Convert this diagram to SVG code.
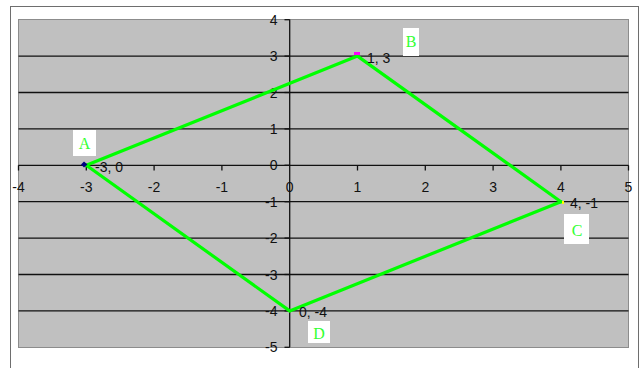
<svg xmlns="http://www.w3.org/2000/svg" width="644" height="368" viewBox="0 0 644 368">
<style>
.grid{stroke:#111;stroke-width:1.3}
.tick{stroke:#111;stroke-width:1.3}
.ax{font-family:"Liberation Sans",Arial,sans-serif;font-size:14px;fill:#111}
.dl{font-family:"Liberation Sans",Arial,sans-serif;font-size:14px;fill:#111}
.box{fill:#ffffff}
.let{font-family:"Liberation Serif","Times New Roman",serif;font-size:16px;fill:#33ff33;text-anchor:middle}
.edge{stroke:#00ff00;stroke-width:3.2;stroke-linecap:round;fill:none}
</style>
<rect x="0" y="0" width="644" height="368" fill="#ffffff"/>
<rect x="10.5" y="6.5" width="628" height="370" fill="#ffffff" stroke="#6e6e6e" stroke-width="1"/>
<rect x="18.5" y="19.5" width="610" height="328" fill="#c0c0c0" stroke="#8c8c8c" stroke-width="1"/>
<g id="grid">
<line class="grid" x1="18.5" y1="56.1" x2="628.5" y2="56.1"/>
<line class="grid" x1="18.5" y1="92.5" x2="628.5" y2="92.5"/>
<line class="grid" x1="18.5" y1="128.9" x2="628.5" y2="128.9"/>
<line class="grid" x1="18.5" y1="165.3" x2="628.5" y2="165.3"/>
<line class="grid" x1="18.5" y1="201.7" x2="628.5" y2="201.7"/>
<line class="grid" x1="18.5" y1="238.1" x2="628.5" y2="238.1"/>
<line class="grid" x1="18.5" y1="274.5" x2="628.5" y2="274.5"/>
<line class="grid" x1="18.5" y1="310.9" x2="628.5" y2="310.9"/>
<line class="grid" x1="289.7" y1="19.5" x2="289.7" y2="347.3"/>
</g>
<g id="ticks">
<line class="tick" x1="18.5" y1="165.3" x2="18.5" y2="170.5"/>
<line class="tick" x1="86.3" y1="165.3" x2="86.3" y2="170.5"/>
<line class="tick" x1="154.1" y1="165.3" x2="154.1" y2="170.5"/>
<line class="tick" x1="221.9" y1="165.3" x2="221.9" y2="170.5"/>
<line class="tick" x1="357.5" y1="165.3" x2="357.5" y2="170.5"/>
<line class="tick" x1="425.3" y1="165.3" x2="425.3" y2="170.5"/>
<line class="tick" x1="493.1" y1="165.3" x2="493.1" y2="170.5"/>
<line class="tick" x1="560.9" y1="165.3" x2="560.9" y2="170.5"/>
<line class="tick" x1="628.5" y1="165.3" x2="628.5" y2="170.5"/>
<line class="tick" x1="284.5" y1="19.7" x2="289.7" y2="19.7"/>
<line class="tick" x1="284.5" y1="56.1" x2="289.7" y2="56.1"/>
<line class="tick" x1="284.5" y1="92.5" x2="289.7" y2="92.5"/>
<line class="tick" x1="284.5" y1="128.9" x2="289.7" y2="128.9"/>
<line class="tick" x1="284.5" y1="165.3" x2="289.7" y2="165.3"/>
<line class="tick" x1="284.5" y1="201.7" x2="289.7" y2="201.7"/>
<line class="tick" x1="284.5" y1="238.1" x2="289.7" y2="238.1"/>
<line class="tick" x1="284.5" y1="274.5" x2="289.7" y2="274.5"/>
<line class="tick" x1="284.5" y1="310.9" x2="289.7" y2="310.9"/>
<line class="tick" x1="284.5" y1="347.3" x2="289.7" y2="347.3"/>
</g>
<g id="x-labels" class="ax" text-anchor="middle">
<text x="18.5" y="192">-4</text>
<text x="86.3" y="192">-3</text>
<text x="154.1" y="192">-2</text>
<text x="221.9" y="192">-1</text>
<text x="289.7" y="192">0</text>
<text x="357.5" y="192">1</text>
<text x="425.3" y="192">2</text>
<text x="493.1" y="192">3</text>
<text x="560.9" y="192">4</text>
<text x="628.5" y="192">5</text>
</g>
<g id="y-labels" class="ax" text-anchor="end">
<text x="277.5" y="24.8">4</text>
<text x="277.5" y="61.2">3</text>
<text x="277.5" y="97.6">2</text>
<text x="277.5" y="134">1</text>
<text x="277.5" y="170.4">0</text>
<text x="277.5" y="206.8">-1</text>
<text x="277.5" y="243.2">-2</text>
<text x="277.5" y="279.6">-3</text>
<text x="277.5" y="316">-4</text>
<text x="277.5" y="352.4">-5</text>
</g>
<g id="connectors">
<line class="edge" x1="86.3" y1="165.3" x2="357.5" y2="56.1"/>
<line class="edge" x1="357.5" y1="56.1" x2="560.9" y2="201.7"/>
<line class="edge" x1="560.9" y1="201.7" x2="289.7" y2="310.9"/>
<line class="edge" x1="289.7" y1="310.9" x2="86.3" y2="165.3"/>
</g>
<g id="A">
<path d="M84 161.5 L87.5 164.5 L84 167.5 L81 164.5 Z" fill="#000080"/>
<text class="dl" x="95" y="171.7">-3, 0</text>
<rect class="box" x="73" y="130" width="23" height="26"/>
<text class="let" x="84.5" y="149">A</text>
</g>
<g id="B">
<rect x="354" y="52" width="6" height="3" fill="#ff00ff"/>
<text class="dl" x="367" y="62.5">1, 3</text>
<rect class="box" x="403" y="28" width="16" height="28"/>
<text class="let" x="411" y="47">B</text>
</g>
<g id="C">
<rect x="562" y="201" width="2" height="3" fill="#ffff00"/>
<text class="dl" x="570" y="207.7">4, -1</text>
<rect class="box" x="564" y="214" width="25" height="30"/>
<text class="let" x="577" y="236">C</text>
</g>
<g id="D">
<text class="dl" x="299" y="316.7">0, -4</text>
<rect class="box" x="308" y="321" width="22" height="22"/>
<text class="let" x="319" y="338.5">D</text>
</g>
</svg>
